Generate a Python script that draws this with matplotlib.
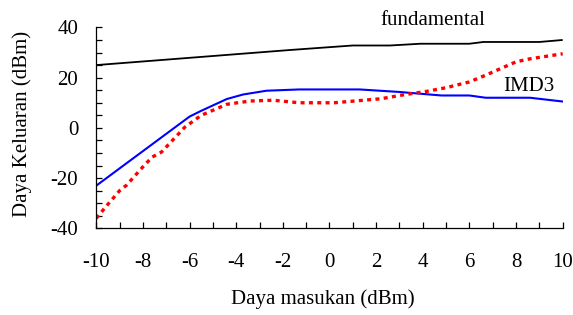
import matplotlib
matplotlib.use("Agg")
import matplotlib.pyplot as plt
from matplotlib.ticker import MultipleLocator

plt.rcParams['font.family'] = ['Liberation Serif', 'DejaVu Serif']

# Fundamental output
fund_x = [-10, -1.7, 1.0, 2.6, 3.9, 6.0, 6.6, 9.0, 10]
fund_y = [25.0, 31.0, 32.8, 32.8, 33.5, 33.5, 34.2, 34.2, 35.0]

# Blue curve
blue_x = [-10, -6.0, -5.5, -4.4, -3.7, -2.7, -1.3, 1.3, 3.0, 4.8, 6.0, 6.7, 8.6, 10]
blue_y = [-23.0, 4.5, 6.8, 11.5, 13.3, 14.8, 15.3, 15.3, 14.3, 12.9, 12.9, 12.0, 12.0, 10.5]

# IMD3 curve
imd_x = [-10, -9.6, -9.0, -8.7, -8.0, -7.6, -7.2, -6.2, -5.5, -4.4, -3.4, -2.4,
         -1.3, 0.2, 1.2, 2.2, 3.2, 4.2, 5.0, 6.0, 6.7, 8.0, 8.6, 10]
imd_y = [-36.0, -31.5, -25.0, -22.8, -15.5, -11.6, -9.6, 0.3, 5.0, 9.4, 10.7, 11.0,
         10.0, 10.0, 10.8, 11.6, 13.2, 14.6, 16.0, 18.3, 21.0, 26.3, 27.5, 29.5]

xticks = [-10, -8, -6, -4, -2, 0, 2, 4, 6, 8, 10]
xticklabels = ['-10', '-8', '-6', '-4', '-2', '0', '2', '4', '6', '8', '10']
yticks = [-40, -20, 0, 20, 40]
yticklabels = ['-40', '-20', '0', '20', '40']

fig = plt.figure(figsize=(5.73, 3.15), dpi=100)
ax = fig.add_axes([0.168, 0.275, 0.814, 0.638])

ax.plot(fund_x, fund_y, color='black', lw=1.3, solid_capstyle='butt')
ax.plot(blue_x, blue_y, color='#0000ff', lw=1.5)
ax.plot(imd_x, imd_y, color='#ff0000', lw=2.4, linestyle=(0, (1.2, 1.3)),
        dash_capstyle='butt')

ax.set_xlim(-10, 10)
ax.set_ylim(-40, 40)
ax.set_xticks(xticks)
ax.set_xticklabels(xticklabels)
ax.set_yticks(yticks)
ax.set_yticklabels(yticklabels)
ax.xaxis.set_minor_locator(MultipleLocator(1))
ax.yaxis.set_minor_locator(MultipleLocator(5))
ax.tick_params(axis='both', which='both', direction='in', length=4.5, width=0.9,
               labelsize=15)
ax.tick_params(axis='x', which='major', pad=18)
ax.tick_params(axis='y', which='major', pad=13)

for s in ['top', 'right']:
    ax.spines[s].set_visible(False)
for s in ['left', 'bottom']:
    ax.spines[s].set_linewidth(0.9)

ax.text(4.44, 42.9, 'fundamental', ha='center', va='center', fontsize=15,
        clip_on=False)
ax.text(8.55, 16.6, 'IMD3', ha='center', va='center', fontsize=15)

fig.text(0.564, 0.05, 'Daya masukan (dBm)', ha='center', va='center', fontsize=15)
fig.text(0.039, 0.605, 'Daya Keluaran (dBm)', ha='center', va='center',
         rotation=90, fontsize=15)

fig.savefig('out.png', dpi=100)
